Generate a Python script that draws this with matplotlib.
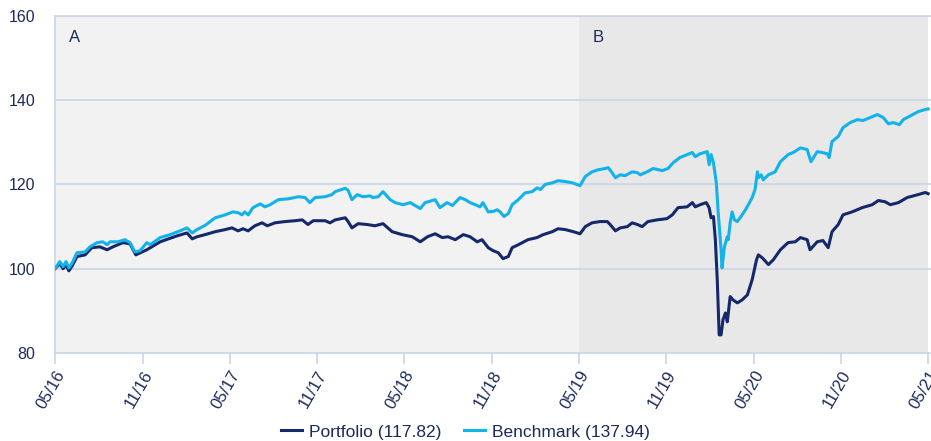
import matplotlib
matplotlib.use("Agg")
import matplotlib.pyplot as plt
import pandas as pd

plt.rcParams['font.family'] = ['Liberation Sans', 'DejaVu Sans']

start_date = "2016-05-31"

# Benchmark: days since start, index values
bench_days = [0, 10, 17, 23, 29, 36, 46, 63, 73, 88, 100, 109, 115, 132, 146, 157, 167, 178,
              192, 199, 220, 241, 268, 276, 287, 297, 314, 335, 356, 372, 383, 391, 397, 404,
              414, 429, 439, 450, 467, 488, 509, 523, 533, 544, 565, 579, 586, 607, 613, 621,
              632, 644, 659, 665, 676, 686, 701, 711, 728, 743, 753, 764, 774, 795, 805, 820,
              831, 847, 858, 868, 879, 889, 895, 906, 916, 925, 931, 939, 948, 956, 969, 983,
              998, 1008, 1015, 1025, 1040, 1052, 1067, 1082, 1098, 1109, 1123, 1136, 1151,
              1157, 1165, 1172, 1182, 1192, 1207, 1218, 1224, 1238, 1251, 1270, 1282, 1293,
              1307, 1322, 1333, 1339, 1349, 1364, 1368, 1372, 1377, 1383, 1387, 1393, 1395,
              1400, 1406, 1408, 1412, 1416, 1421, 1427, 1437, 1444, 1450, 1458, 1464, 1469,
              1471, 1477, 1481, 1492, 1506, 1517, 1533, 1544, 1559, 1573, 1581, 1594, 1604,
              1615, 1619, 1625, 1638, 1648, 1663, 1678, 1690, 1705, 1720, 1732, 1743, 1753,
              1766, 1774, 1789, 1805, 1820, 1826]
bench_vals = [100.0, 101.7, 100.5, 101.7, 100.2, 101.4, 103.8, 104.0, 105.2, 106.2, 106.4, 105.7,
              106.4, 106.4, 106.9, 106.2, 104.0, 104.3, 106.2, 105.7, 107.4, 108.1, 109.3, 109.7,
              108.5, 109.3, 110.3, 112.1, 112.8, 113.5, 113.3, 112.8, 113.5, 112.8, 114.5, 115.4,
              114.7, 115.2, 116.4, 116.6, 117.1, 116.9, 115.7, 116.9, 117.1, 117.6, 118.3, 119.1,
              118.6, 116.4, 117.6, 117.1, 117.3, 116.9, 117.1, 118.3, 116.4, 115.7, 115.2, 115.7,
              115.0, 114.3, 115.7, 116.4, 114.5, 115.7, 115.0, 116.9, 116.4, 115.7, 115.2, 114.7,
              115.7, 113.5, 113.6, 114.0, 113.5, 112.4, 113.1, 115.2, 116.4, 118.0, 118.3, 119.2,
              118.8, 120.0, 120.4, 120.9, 120.7, 120.4, 119.7, 121.9, 123.0, 123.5, 123.8, 124.0,
              122.8, 121.6, 122.3, 122.1, 123.0, 122.8, 122.3, 123.0, 123.8, 123.3, 123.8, 125.2,
              126.4, 127.1, 127.6, 126.6, 127.3, 127.8, 124.7, 127.1, 125.2, 120.4, 113.3, 104.5,
              100.2, 105.2, 107.6, 106.9, 110.9, 113.5, 111.6, 111.2, 112.8, 114.0, 115.2, 116.9,
              118.8, 123.0, 121.6, 122.3, 121.1, 122.3, 123.0, 125.4, 127.1, 127.6, 128.7, 128.3,
              125.4, 127.8, 127.6, 127.3, 126.4, 130.2, 131.4, 133.5, 134.7, 135.4, 135.2, 135.9,
              136.6, 135.9, 134.4, 134.7, 134.2, 135.4, 136.3, 137.3, 137.8, 137.94]

# Portfolio: days since start, index values
port_days = [0, 10, 17, 23, 29, 36, 46, 63, 77, 94, 109, 121, 142, 157, 169, 192, 220, 255, 276,
             287, 297, 314, 335, 356, 370, 383, 393, 404, 418, 433, 444, 460, 481, 502, 517, 529,
             540, 565, 575, 586, 607, 613, 621, 634, 653, 669, 686, 705, 726, 747, 764, 779, 795,
             810, 822, 837, 854, 868, 883, 893, 906, 916, 927, 937, 948, 956, 969, 989, 1008,
             1021, 1040, 1052, 1067, 1084, 1098, 1109, 1123, 1140, 1155, 1161, 1172, 1182, 1197,
             1207, 1218, 1228, 1240, 1259, 1280, 1291, 1303, 1322, 1333, 1339, 1349, 1362, 1368,
             1372, 1377, 1381, 1385, 1389, 1393, 1397, 1402, 1406, 1412, 1418, 1427, 1437, 1448,
             1458, 1467, 1471, 1479, 1492, 1502, 1517, 1533, 1548, 1559, 1573, 1579, 1594, 1606,
             1617, 1625, 1638, 1648, 1667, 1688, 1709, 1722, 1736, 1747, 1764, 1782, 1805, 1820,
             1826]
port_vals = [100.0, 101.2, 100.0, 100.9, 99.5, 100.7, 102.9, 103.3, 105.0, 105.2, 104.5, 105.2,
             106.2, 105.9, 103.3, 104.5, 106.4, 107.8, 108.5, 107.1, 107.6, 108.1, 108.8, 109.3,
             109.7, 109.0, 109.5, 109.0, 110.2, 110.9, 110.2, 110.9, 111.2, 111.4, 111.6, 110.5,
             111.4, 111.4, 110.9, 111.6, 112.1, 111.2, 109.7, 110.7, 110.5, 110.2, 110.7, 108.8,
             108.1, 107.6, 106.4, 107.6, 108.3, 107.4, 107.6, 106.9, 108.1, 107.6, 106.4, 106.9,
             105.0, 104.3, 103.8, 102.4, 102.9, 105.0, 105.7, 106.9, 107.4, 108.1, 108.8, 109.5,
             109.3, 108.8, 108.3, 110.0, 110.9, 111.2, 111.2, 110.5, 109.0, 109.7, 110.0, 110.9,
             110.5, 110.0, 111.2, 111.6, 111.9, 112.8, 114.5, 114.7, 115.7, 114.7, 115.2, 115.7,
             114.5, 112.1, 112.4, 106.9, 97.4, 84.3, 84.3, 87.9, 89.5, 87.4, 93.4, 92.6, 91.9,
             92.6, 93.8, 97.4, 102.1, 103.3, 102.6, 101.0, 102.1, 104.5, 106.2, 106.4, 107.4,
             106.9, 104.5, 106.4, 106.7, 105.0, 108.8, 110.5, 112.8, 113.5, 114.5, 115.2, 116.2,
             115.9, 115.2, 115.7, 116.9, 117.6, 118.1, 117.82]

tick_labels = ["05/16", "11/16", "05/17", "11/17", "05/18", "11/18", "05/19",
               "11/19", "05/20", "11/20", "05/21"]
tick_dates = ["2016-05-31", "2016-11-30", "2017-05-31", "2017-11-30", "2018-05-31",
              "2018-11-30", "2019-05-31", "2019-11-30", "2020-05-31", "2020-11-30",
              "2021-05-31"]
period_labels = ["A", "B"]
period_bounds = [("2016-05-31", "2019-05-31"), ("2019-05-31", "2021-05-31")]
series_names = ["Portfolio", "Benchmark"]

NAVY = "#15296a"
LIGHT = "#12b2ea"
TEXT = "#1c2a5c"
GRID = "#c9d5e8"

t0 = pd.Timestamp(start_date)
bx = t0 + pd.to_timedelta(bench_days, unit="D")
px = t0 + pd.to_timedelta(port_days, unit="D")

fig = plt.figure(figsize=(9.31, 4.41), dpi=100)
ax = fig.add_axes([55 / 931, 1 - 353 / 441, 876 / 931, (353 - 16) / 441])

shade = ["#f2f2f2", "#e8e8e8"]
for (a, b), lab, c in zip(period_bounds, period_labels, shade):
    ax.axvspan(pd.Timestamp(a), pd.Timestamp(b), color=c, zorder=0, lw=0)
    ax.text(pd.Timestamp(a) + pd.Timedelta(days=30), 155, lab, color=TEXT,
            fontsize=12, va="center", ha="left")

ax.set_facecolor("white")
ax.set_ylim(80, 160)
ax.set_xlim(pd.Timestamp(tick_dates[0]), pd.Timestamp(tick_dates[-1]) + pd.Timedelta(days=6))
ax.set_yticks([80, 100, 120, 140, 160])
for yv in [100, 120, 140, 160]:
    ax.axhline(yv, color=GRID, lw=1.2, zorder=1)

ax.plot(px, port_vals, color=NAVY, lw=2.2, zorder=3,
        label=f"{series_names[0]} ({port_vals[-1]:.2f})")
ax.plot(bx, bench_vals, color=LIGHT, lw=2.2, zorder=3,
        label=f"{series_names[1]} ({bench_vals[-1]:.2f})")

ax.set_xticks([pd.Timestamp(d) for d in tick_dates])
ax.set_xticklabels(tick_labels, rotation=60, ha="right", rotation_mode="anchor")
ax.tick_params(axis="x", colors=GRID, labelcolor=TEXT, labelsize=12, length=8, width=1.2, pad=3)
ax.tick_params(axis="y", length=0, labelcolor=TEXT, labelsize=11.5, pad=14)

for s in ["left", "bottom", "top"]:
    ax.spines[s].set_color(GRID)
    ax.spines[s].set_linewidth(1.2)
ax.spines["right"].set_visible(False)

leg = fig.legend(loc="center", bbox_to_anchor=(0.5, 1 - 432 / 441), ncol=2, frameon=False,
                 fontsize=12.5, handlelength=1.2, columnspacing=1.35, handletextpad=0.4)
for t in leg.get_texts():
    t.set_color(TEXT)

fig.savefig("out.png", dpi=100)
